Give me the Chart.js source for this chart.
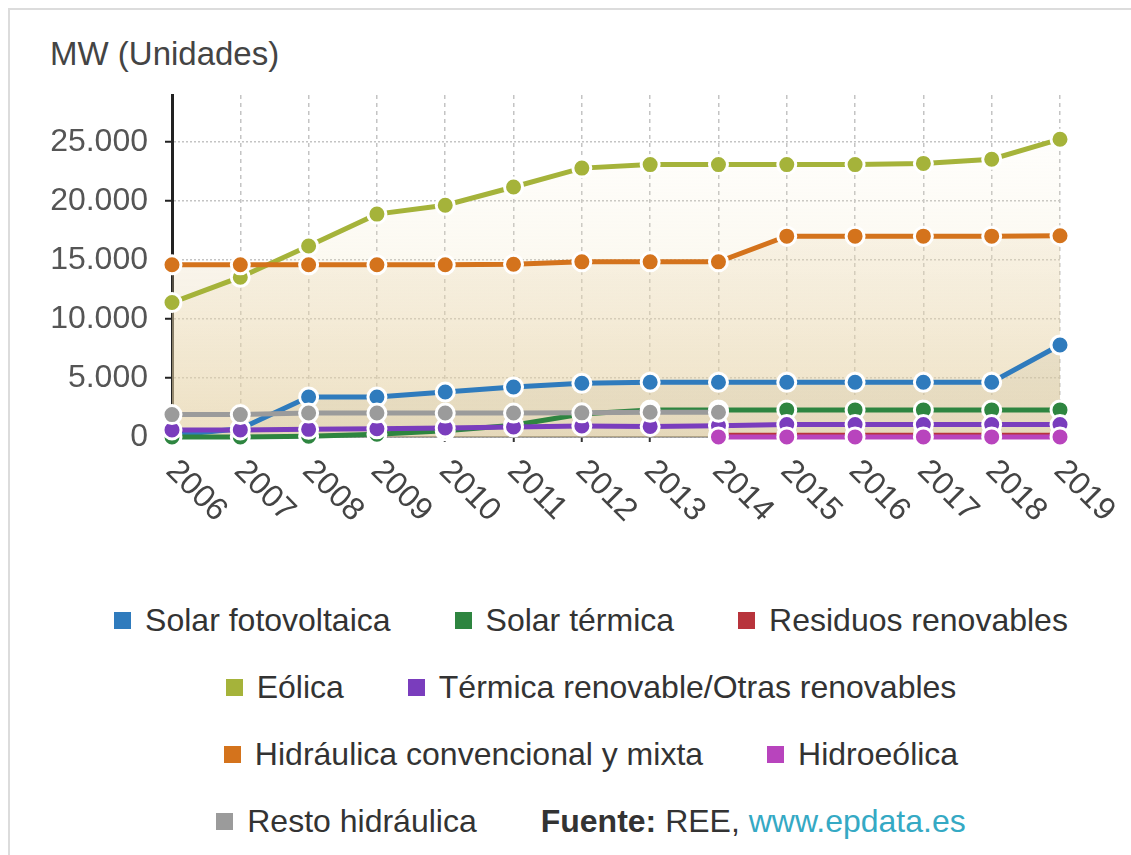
<!DOCTYPE html>
<html lang="es">
<head>
<meta charset="utf-8">
<title>Potencia renovable instalada (MW)</title>
<script src="https://cdn.jsdelivr.net/npm/chart.js@4.4.1/dist/chart.umd.min.js"></script>
<style>
    body { margin: 0; background: #fff; overflow: hidden; font-family: 'Liberation Sans', Arial, sans-serif; }
    #marco { position: absolute; left: 8px; top: 8px; width: 1200px; height: 900px; border: 2px solid #dcdcdc; }
    #titulo { position: absolute; left: 50px; top: 35px; font-size: 33px; color: #444; }
    #contenedor { position: absolute; left: 0; top: 0; width: 1131px; height: 560px; }
    #leyenda { position: absolute; left: 51px; top: 587px; width: 1080px; }
    .fila { display: flex; justify-content: center; align-items: center; height: 67px; }
    .item { display: flex; align-items: center; margin: 0 32px; font-size: 32px; color: #333; white-space: nowrap; }
    .cuadro { width: 17px; height: 17px; margin-right: 14px; }
    .fuente b { font-weight: bold; }
    .fuente a { color: #35a9c4; text-decoration: none; }
</style>
</head>
<body>
<div id="marco"></div>
<div id="titulo">MW (Unidades)</div>
<div id="contenedor"><canvas id="myChart"></canvas></div>
<div id="leyenda"></div>

<script>
// Datos (MW instalados por tecnología)
const anios = ['2006', '2007', '2008', '2009', '2010', '2011', '2012', '2013', '2014', '2015', '2016', '2017', '2018', '2019'];

const solarFotovoltaica = [150, 700, 3390, 3390, 3810, 4240, 4560, 4640, 4640, 4640, 4640, 4640, 4640, 7800];
const solarTermica = [10, 10, 60, 230, 530, 1000, 1950, 2300, 2300, 2300, 2300, 2300, 2300, 2300];
const residuosRenovables = [null, null, null, null, null, null, null, null, 150, 150, 150, 150, 150, 150];
const eolica = [11400, 13550, 16200, 18900, 19650, 21200, 22800, 23100, 23100, 23100, 23100, 23200, 23550, 25250];
const termicaRenovable = [600, 600, 650, 700, 770, 850, 930, 900, 950, 1050, 1050, 1050, 1050, 1050];
const hidraulica = [14600, 14600, 14600, 14600, 14600, 14650, 14850, 14850, 14850, 17030, 17030, 17030, 17030, 17070];
const hidroeolica = [null, null, null, null, null, null, null, null, 10, 10, 10, 10, 10, 10];
const restoHidraulica = [1900, 1900, 2030, 2030, 2030, 2030, 2050, 2100, 2100, null, null, null, null, null];

const nombres = ['Solar fotovoltaica', 'Solar térmica', 'Residuos renovables', 'Eólica',
    'Térmica renovable/Otras renovables', 'Hidráulica convencional y mixta', 'Hidroeólica', 'Resto hidráulica'];
const colores = ['#2f7bbd', '#2e8540', '#b8343c', '#a5b33a', '#7a3dbd', '#d4731c', '#b844bd', '#9b9b9b'];
const valores = [solarFotovoltaica, solarTermica, residuosRenovables, eolica, termicaRenovable, hidraulica, hidroeolica, restoHidraulica];

const ticksY = [0, 5000, 10000, 15000, 20000, 25000];

function formatoMiles(v) {
    return String(v).replace(/\B(?=(\d{3})+(?!\d))/g, '.');
}

function degradado(context, arriba, abajo) {
    const { ctx, chartArea } = context.chart;
    if (!chartArea) return null;
    const g = ctx.createLinearGradient(0, chartArea.top, 0, chartArea.bottom);
    g.addColorStop(0, arriba);
    g.addColorStop(1, abajo);
    return g;
}

// rellenos bajo Solar fotovoltaica, Eólica e Hidráulica
const rellenos = {
    0: ['rgba(110,120,100,0.15)', 'rgba(110,120,100,0.15)'],
    3: ['rgba(245,235,200,0)', 'rgba(235,220,180,0.45)'],
    5: ['rgba(240,225,195,0.15)', 'rgba(220,195,145,0.35)']
};

const datasets = valores.map((datos, i) => ({
    label: nombres[i],
    data: datos,
    borderColor: colores[i],
    backgroundColor: rellenos[i] ? (c) => degradado(c, rellenos[i][0], rellenos[i][1]) : colores[i],
    fill: rellenos[i] ? 'origin' : false,
    borderWidth: 5,
    pointRadius: 9,
    pointBorderWidth: 3,
    pointBackgroundColor: colores[i],
    pointBorderColor: '#fff',
    tension: 0,
    clip: false,
    order: valores.length - i
}));

// Etiquetas del eje X giradas hacia abajo
const etiquetasX = {
    id: 'etiquetasX',
    afterDraw(chart) {
        const escala = chart.scales.x;
        const ctx = chart.ctx;
        ctx.save();
        ctx.font = '32px "Liberation Sans", Arial, sans-serif';
        ctx.fillStyle = '#444';
        ctx.textAlign = 'left';
        ctx.textBaseline = 'middle';
        anios.forEach((a, i) => {
            const x = escala.getPixelForTick(i);
            ctx.save();
            ctx.translate(x - 1, escala.top + 29);
            ctx.rotate(Math.PI / 4);
            ctx.fillText(a, 0, 0);
            ctx.restore();
        });
        ctx.restore();
    }
};

const ctx = document.getElementById('myChart').getContext('2d');
const myChart = new Chart(ctx, {
    type: 'line',
    data: { labels: anios, datasets: datasets },
    options: {
        responsive: true,
        maintainAspectRatio: false,
        animation: false,
        layout: { padding: { top: 95, right: 71, left: 0, bottom: 0 } },
        plugins: {
            legend: { display: false },
            tooltip: { enabled: false },
            filler: { drawTime: 'beforeDatasetsDraw' }
        },
        scales: {
            x: {
                offset: false,
                afterFit: (s) => { s.height = 123; },
                ticks: { display: false },
                grid: {
                    color: '#c4c4c4',
                    lineWidth: 1.5,
                    tickLength: 5,
                    tickColor: '#333',
                    tickWidth: 2,
                    tickBorderDash: []
                },
                border: { display: true, color: '#555', width: 1.5, dash: [4, 4] }
            },
            y: {
                min: 0,
                max: 29000,
                afterFit: (s) => { s.width = 172; },
                afterBuildTicks: (s) => { s.ticks = ticksY.map(v => ({ value: v })); },
                ticks: {
                    padding: 17,
                    color: '#555',
                    font: { size: 32, family: '"Liberation Sans", Arial, sans-serif' },
                    callback: (v) => formatoMiles(v)
                },
                grid: {
                    color: '#c4c4c4',
                    lineWidth: 1.5,
                    tickLength: 7,
                    tickColor: '#222',
                    tickWidth: 2,
                    tickBorderDash: []
                },
                border: { display: true, color: '#222', width: 3, dash: [2, 2] }
            }
        }
    },
    plugins: [etiquetasX]
});

// Leyenda en HTML
const filas = [[0, 1, 2], [3, 4], [5, 6], [7, 'fuente']];
const leyenda = document.getElementById('leyenda');
let html = '';
filas.forEach(fila => {
    html += '<div class="fila">';
    fila.forEach(i => {
        if (i === 'fuente') {
            html += '<div class="item fuente"><b>Fuente:</b>&nbsp;REE,&nbsp;<a>www.epdata.es</a></div>';
        } else {
            html += `<div class="item"><span class="cuadro" style="background:${colores[i]}"></span>${nombres[i]}</div>`;
        }
    });
    html += '</div>';
});
leyenda.innerHTML = html;
</script>
</body>
</html>
